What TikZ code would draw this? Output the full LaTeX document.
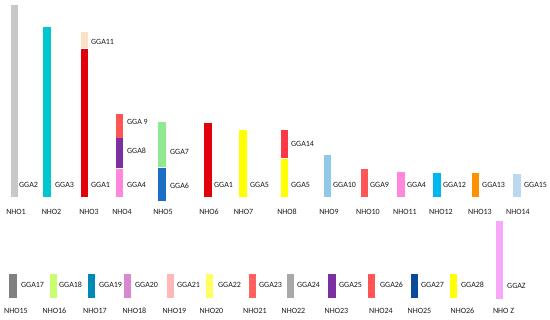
\documentclass[tikz,border=0pt]{standalone}
\usepackage{fontspec}
\setmainfont{Carlito}
\usetikzlibrary{positioning}
\definecolor{cgray}{RGB}{200,200,200}
\definecolor{ccyan}{RGB}{0,200,208}
\definecolor{cred}{RGB}{226,0,10}
\definecolor{cpeach}{RGB}{253,224,200}
\definecolor{ccoral}{RGB}{255,85,85}
\definecolor{cpurple}{RGB}{123,47,160}
\definecolor{cpink}{RGB}{255,136,221}
\definecolor{cgreen}{RGB}{144,232,144}
\definecolor{cblue}{RGB}{26,111,196}
\definecolor{cyellow}{RGB}{255,255,0}
\definecolor{crose}{RGB}{255,56,72}
\definecolor{csky}{RGB}{144,200,234}
\definecolor{cazure}{RGB}{0,184,240}
\definecolor{corange}{RGB}{255,144,0}
\definecolor{cpale}{RGB}{187,216,240}
\definecolor{cdgray}{RGB}{128,128,128}
\definecolor{clime}{RGB}{200,255,112}
\definecolor{cteal}{RGB}{0,136,184}
\definecolor{corchid}{RGB}{216,136,208}
\definecolor{cblush}{RGB}{255,184,184}
\definecolor{clemon}{RGB}{255,255,96}
\definecolor{csalmon}{RGB}{255,96,96}
\definecolor{cmgray}{RGB}{168,168,168}
\definecolor{cnavy}{RGB}{10,74,154}
\definecolor{cviolet}{RGB}{248,168,248}
\definecolor{txtclr}{RGB}{26,26,26}
\tikzset{
  barseg/.style={rectangle,draw=none,minimum width=7.5pt,inner sep=0pt,anchor=south},
  gga/.style={font=\fontsize{8}{9.6}\selectfont,text=txtclr,anchor=west,inner sep=0pt},
  nho/.style={font=\fontsize{8}{9.6}\selectfont,text=txtclr,inner sep=0pt},
}
\begin{document}
\begin{tikzpicture}[x=1pt,y=-1pt]
  \useasboundingbox[fill=white] (0,0) rectangle (550,320);

  %% Top row: single bars
  \foreach \i/\cx/\top/\clr/\gx/\g/\lx in {1/14.5/5/cgray/19/GGA2/16,
      2/47/27/ccyan/55/GGA3/51.5,6/208/123/cred/214/GGA1/209,
      7/243/130/cyellow/250/GGA5/243.5,9/327.5/155/csky/333/GGA10/329,
      10/364.5/169/ccoral/370/GGA9/368,11/401/172/cpink/407/GGA4/405,
      12/437/173/cazure/443/GGA12/441,13/475.5/173/corange/482/GGA13/480,
      14/517/174/cpale/524/GGA15/518}{
    \node[barseg,fill=\clr,minimum height={(197-\top)*1pt}] (b\i) at (\cx,197) {};
    \node[gga] (g\i) at (\gx,185) {\g};
    \node[nho] (n\i) at (\lx,212) {NHO\i};
  }

  %% Top row: stacked bars
  \node[barseg,fill=cred,minimum height=148pt] (b3) at (84.5,197) {};
  \node[barseg,fill=cpeach,minimum height=16pt] (b3a) at (b3.north) {};
  \node[gga] (g3) at (91,185) {GGA1};
  \node[gga] (g3a) at (91,42) {GGA11};
  \node[nho] (n3) at (89,212) {NHO3};

  \node[barseg,fill=cpink,minimum height=28pt] (b4) at (119.5,197) {};
  \node[barseg,fill=cpurple,minimum height=30pt] (b4a) at (b4.north) {};
  \node[barseg,fill=ccoral,minimum height=24pt] (b4b) at (b4a.north) {};
  \node[gga] (g4) at (127,185) {GGA4};
  \node[gga] (g4a) at (127,151) {GGA8};
  \node[gga] (g4b) at (127,122) {GGA 9};
  \node[nho] (n4) at (122,212) {NHO4};

  \node[barseg,fill=cblue,minimum height=33pt] (b5) at (162,201) {};
  \node[barseg,fill=cgreen,minimum height=45pt] (b5a) at (b5.north) {};
  \node[gga] (g5) at (170,186) {GGA6};
  \node[gga] (g5a) at (170,152) {GGA7};
  \node[nho] (n5) at (163,212) {NHO5};

  \node[barseg,fill=cyellow,minimum height=38pt] (b8) at (284.5,197) {};
  \node[barseg,fill=crose,minimum height=28pt] (b8a) at (b8.north) {};
  \node[gga] (g8) at (291,185) {GGA5};
  \node[gga] (g8a) at (291,144) {GGA14};
  \node[nho] (n8) at (287,212) {NHO8};

  %% Bottom row
  \foreach \i/\cx/\clr/\gx/\g/\lx in {15/13/cdgray/21/GGA17/16,
      16/53.5/clime/59/GGA18/54.5,17/91.5/cteal/99/GGA19/95,
      18/127.5/corchid/135/GGA20/134.5,19/170.5/cblush/177/GGA21/174.5,
      20/209.5/clemon/218/GGA22/211.5,21/252.5/csalmon/259/GGA23/255,
      22/290.5/cmgray/297/GGA24/293.5,23/332/cpurple/339/GGA25/336.5,
      24/371.5/ccoral/380/GGA26/381,25/414.5/cnavy/421/GGA27/419.5,
      26/453.5/cyellow/461/GGA28/462.5}{
    \node[barseg,fill=\clr,minimum height=24pt] (b\i) at (\cx,298) {};
    \node[gga] (g\i) at (\gx,285) {\g};
    \node[nho] (n\i) at (\lx,311) {NHO\i};
  }
  \node[barseg,fill=cviolet,minimum height=78pt] (bz) at (499.5,299) {};
  \node[gga] (gz) at (507,286) {GGAZ};
  \node[nho] (nz) at (503.5,311) {NHO Z};

\end{tikzpicture}
\end{document}
